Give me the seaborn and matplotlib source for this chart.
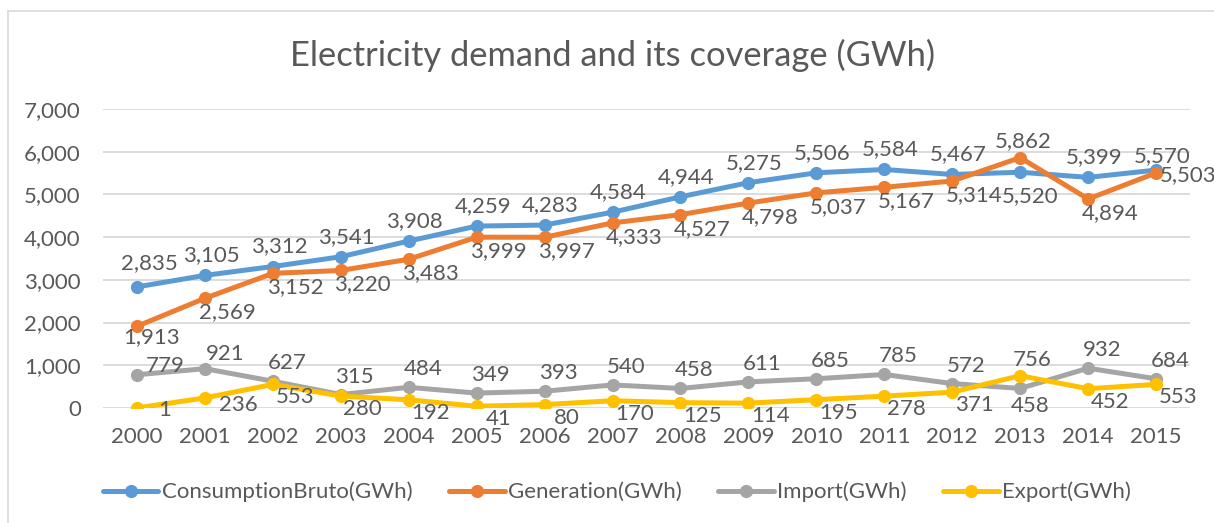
import pandas as pd
import matplotlib.pyplot as plt
import seaborn as sns
from matplotlib.lines import Line2D
from matplotlib.ticker import FuncFormatter

years = list(range(2000, 2016))
consumption = [2835, 3105, 3312, 3541, 3908, 4259, 4283, 4584, 4944, 5275, 5506, 5584, 5467, 5520, 5399, 5570]
generation = [1913, 2569, 3152, 3220, 3483, 3999, 3997, 4333, 4527, 4798, 5037, 5167, 5314, 5862, 4894, 5503]
imports = [779, 921, 627, 315, 484, 349, 393, 540, 458, 611, 685, 785, 572, 458, 932, 684]
exports = [1, 236, 553, 280, 192, 41, 80, 170, 125, 114, 195, 278, 371, 756, 452, 553]

series_names = ["ConsumptionBruto(GWh)", "Generation(GWh)", "Import(GWh)", "Export(GWh)"]
colors = ["#5B9BD5", "#ED7D31", "#A5A5A5", "#FFC000"]
title = "Electricity demand and its coverage (GWh)"

sns.set_theme(style="white")
plt.rcParams["font.family"] = ["Lato", "DejaVu Sans"]
text_color = "#595959"
grid_color = "#D9D9D9"
fs = 16

# long-form frame for seaborn, x as category index
rows = []
for name, vals in zip(series_names, [consumption, generation, imports, exports]):
    for i, v in enumerate(vals):
        rows.append({"idx": i, "value": v, "series": name})
df = pd.DataFrame(rows)

fig = plt.figure(figsize=(12.14, 5.23), dpi=100)
W, H = 1214, 523
ax = fig.add_axes([103 / W, 1 - 408 / H, (1190 - 103) / W, (408 - 109) / H])

sns.lineplot(
    data=df, x="idx", y="value", hue="series", hue_order=series_names,
    palette=colors, marker="o", markersize=9.5, markeredgewidth=0,
    linewidth=3.6, legend=False, ax=ax,
)

ax.set_xlim(-0.5, len(years) - 0.5)
ax.set_ylim(0, 7000)
ax.set_yticks(range(0, 7001, 1000))
ax.yaxis.set_major_formatter(FuncFormatter(lambda v, p: f"{int(v):,}"))
ax.set_xticks(range(len(years)))
ax.set_xticklabels([str(y) for y in years])
ax.grid(axis="y", color=grid_color, linewidth=1.3)
ax.set_axisbelow(True)
for s in ax.spines.values():
    s.set_visible(False)
ax.tick_params(axis="both", length=0, labelsize=fs, colors=text_color)
ax.tick_params(axis="y", pad=16)
ax.tick_params(axis="x", pad=14)
ax.set_xlabel("")
ax.set_ylabel("")

# data labels, offsets given in pixels (x right, y up)
def px(v):
    return v * 0.72

default_off = {
    0: (6, 20),
    1: (22, -14),
    2: (14, 18),
    3: (22, -13),
}
special_off = {
    (0, 0): (12, 24),
    (0, 13): (10, -24),
    (0, 15): (6, 14),
    (1, 0): (15, -11),
    (1, 13): (3, 17),
    (1, 15): (32, -2),
    (2, 0): (28, 9),
    (2, 1): (20, 15),
    (2, 13): (10, -18),
    (3, 0): (28, -2),
    (3, 1): (33, -7),
    (3, 13): (12, 16),
}
all_vals = [consumption, generation, imports, exports]
for si, vals in enumerate(all_vals):
    for i, v in enumerate(vals):
        dx, dy = special_off.get((si, i), default_off[si])
        ax.annotate(f"{v:,}", (i, v), xytext=(px(dx), px(dy)), textcoords="offset points",
                    ha="center", va="center", fontsize=fs, color=text_color,
                    annotation_clip=False)

fig.text(613 / W, 1 - 55 / H, title, ha="center", va="center",
         fontsize=24.8, color=text_color)

# chart area border
fig.add_artist(Line2D([8 / W, 1], [1 - 11 / H, 1 - 11 / H], color=grid_color, linewidth=1.2))
fig.add_artist(Line2D([8 / W, 8 / W], [0, 1 - 11 / H], color=grid_color, linewidth=1.2))

handles = [Line2D([], [], color=c, linewidth=3.6, marker="o", markersize=9.5, markeredgewidth=0)
           for c in colors]
fig.legend(handles, series_names, loc="center", bbox_to_anchor=(617 / W, 1 - 492 / H),
           ncol=4, frameon=False, fontsize=fs, handlelength=2.5, handletextpad=0.15,
           columnspacing=1.65, labelcolor=text_color)

fig.savefig("out.png", dpi=100)
